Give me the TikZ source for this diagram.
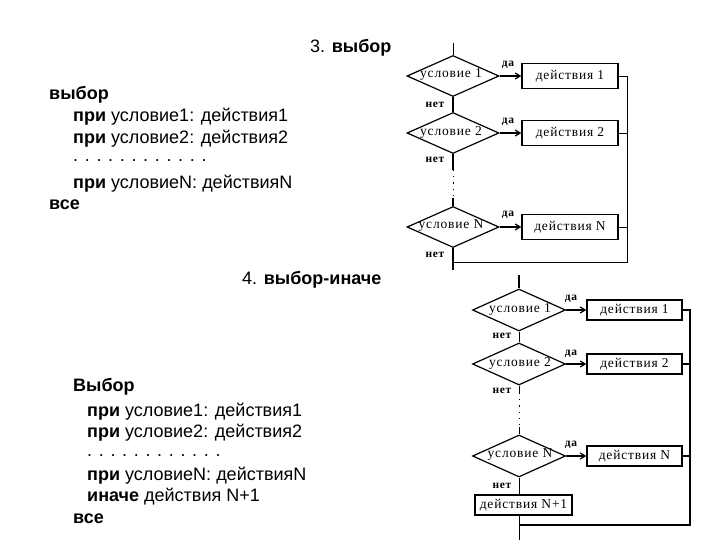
\documentclass[tikz,border=0pt]{standalone}
\usepackage{fontspec}
\setmainfont{Liberation Sans}
\newfontfamily\dfont{Liberation Serif}[LetterSpace=6]
\usetikzlibrary{shapes.geometric,arrows.meta}
\begin{document}
\begin{tikzpicture}[x=1pt,y=-1pt,
  dia/.style={diamond, draw, line width=1.2pt, minimum width=92pt, minimum height=41pt, inner sep=0pt},
  abox/.style={draw, line width=1.4pt, minimum width=96pt, minimum height=25pt, inner sep=0pt, font=\dfont\fontsize{13.5}{13.5}\selectfont},
  bbox/.style={abox, minimum width=95pt, minimum height=20pt},
  dtext/.style={inner sep=0pt, font=\dfont\fontsize{13.5}{13.5}\selectfont},
  lbl/.style={inner sep=0pt, font=\dfont\bfseries\fontsize{11.5}{11.5}\selectfont},
  code/.style={anchor=base west, inner sep=0pt, font=\fontsize{18}{22}\selectfont},
  link/.style={line width=0.9pt},
  link2/.style={line width=1.2pt},
  arr/.style={-{Straight Barb[length=5pt,width=6pt]}, line width=1.2pt},
  dotline/.style={line width=1pt, dash pattern=on 1.2pt off 5pt}]
\useasboundingbox (0,0) rectangle (720,540);
\fill[white] (0,0) rectangle (720,540);

% ---------- texts ----------
\node[code] (h1) at (310,53) {3. \textbf{выбор}};
\node[code] (c1) at (49,99.5) {\textbf{выбор}};
\node[code] (c2) at (73,121.5) {\textbf{при} условие1: действия1};
\node[code] (c3) at (73,143.5) {\textbf{при} условие2: действия2};
\node[code] (c4) at (73,162) {. . . . . . . . . . . .};
\node[code] (c5) at (73,188.5) {\textbf{при} условиеN: действияN};
\node[code] (c6) at (49,209.5) {\textbf{все}};

\node[code] (h2) at (242,284) {4. \textbf{выбор-иначе}};
\node[code] (e1) at (73,391) {\textbf{Выбор}};
\node[code] (e2) at (87,416) {\textbf{при} условие1: действия1};
\node[code] (e3) at (87,437) {\textbf{при} условие2: действия2};
\node[code] (e4) at (87,456) {. . . . . . . . . . . .};
\node[code] (e5) at (87,480) {\textbf{при} условиеN: действияN};
\node[code] (e6) at (87,501) {\textbf{иначе} действия N+1};
\node[code] (e7) at (73,523) {\textbf{все}};

% ---------- diagram 3 ----------
\coordinate (in1) at (453,43);
\node[dia] (d1) at (453,76) {};
\node[dtext] (t1) at (451,75) {условие 1};
\node[abox] (b1) at (570,76) {действия 1};
\node[dia] (d2) at (453,133) {};
\node[dtext] (t2) at (451,132) {условие 2};
\node[abox] (b2) at (570,133) {действия 2};
\coordinate (g1) at (453,170);
\coordinate (g2) at (453,198);
\node[dia] (d3) at (453,227) {};
\node[dtext] (t3) at (451,226) {условие N};
\node[abox] (b3) at (570,227) {действия N};
\coordinate (out1) at (453,270);
\coordinate (r1) at (627,262);
\coordinate (j1) at (453,262);

\draw[link] (in1) -- (d1.north);
\draw[arr] (d1.east) -- (b1.west);
\draw[link2] (d1.south) -- (d2.north);
\draw[arr] (d2.east) -- (b2.west);
\draw[link2] (d2.south) -- (g1);
\draw[dotline] (g1) -- (g2);
\draw[link2] (g2) -- (d3.north);
\draw[arr] (d3.east) -- (b3.west);
\draw[link2] (d3.south) -- (out1);
\draw[link] (b1.east) -| (r1) -- (j1);
\draw[link] (b2.east) -- (b2.east -| r1);
\draw[link] (b3.east) -- (b3.east -| r1);

\node[lbl] (y1) at (508,65) {да};
\node[lbl] (n1) at (435,105) {нет};
\node[lbl] (y2) at (508,122) {да};
\node[lbl] (n2) at (435,160) {нет};
\node[lbl] (y3) at (508,215) {да};
\node[lbl] (n3) at (435,255) {нет};

% ---------- diagram 4 ----------
\coordinate (in2) at (519,275);
\node[dia, minimum width=93pt, minimum height=42pt] (D1) at (519,310) {};
\node[dtext] (T1) at (520,309) {условие 1};
\node[bbox] (B1) at (634.5,310) {действия 1};
\node[dia, minimum width=93pt, minimum height=42pt] (D2) at (519,364) {};
\node[dtext] (T2) at (520,363) {условие 2};
\node[bbox] (B2) at (634.5,364) {действия 2};
\coordinate (g3) at (519,393);
\coordinate (g4) at (519,427);
\node[dia, minimum width=93pt, minimum height=42pt] (D3) at (519,456) {};
\node[dtext] (T3) at (520,455) {условие N};
\node[bbox] (B3) at (634.5,456) {действия N};
\node[bbox, minimum width=97pt] (B4) at (523.5,505) {действия N+1};
\coordinate (out2) at (519,540);
\coordinate (r2) at (690,525);
\coordinate (j2) at (519,525);

\draw[link2] (in2) -- (D1.north);
\draw[arr] (D1.east) -- (B1.west);
\draw[link] (D1.south) -- (D2.north);
\draw[arr] (D2.east) -- (B2.west);
\draw[link] (D2.south) -- (g3);
\draw[dotline] (g3) -- (g4);
\draw[link] (g4) -- (D3.north);
\draw[arr] (D3.east) -- (B3.west);
\draw[link] (D3.south) -- (D3.south |- B4.north);
\draw[link] (B4.south -| j2) -- (out2);
\draw[link2] (B1.east) -| (r2) -- (j2);
\draw[link2] (B2.east) -- (B2.east -| r2);
\draw[link2] (B3.east) -- (B3.east -| r2);

\node[lbl] (Y1) at (571,299) {да};
\node[lbl] (N1) at (502,336) {нет};
\node[lbl] (Y2) at (571,354) {да};
\node[lbl] (N2) at (502,391) {нет};
\node[lbl] (Y3) at (571,445) {да};
\node[lbl] (N3) at (502,486) {нет};
\end{tikzpicture}
\end{document}
